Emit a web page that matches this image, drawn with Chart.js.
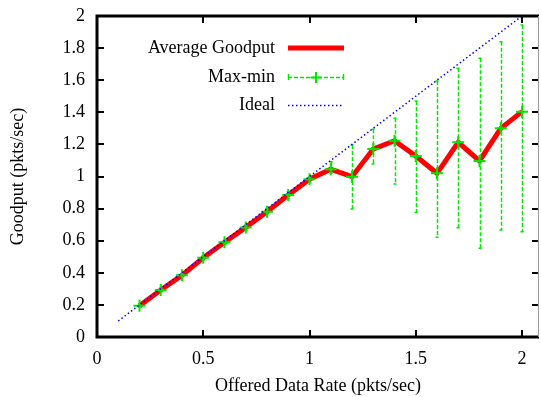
<!DOCTYPE html>
<html>
<head>
<meta charset="utf-8">
<script src="https://cdn.jsdelivr.net/npm/chart.js@4.4.1/dist/chart.umd.min.js"></script>
<style>
  html, body { margin: 0; padding: 0; background: #fff; }
  #wrap { width: 541px; height: 397px; position: relative; }
</style>
</head>
<body>
<div id="wrap"><canvas id="chart"></canvas></div>
<script>
// offered rate (pkts/sec) and measured goodput
const rates = [0.2, 0.3, 0.4, 0.5, 0.6, 0.7, 0.8, 0.9, 1.0, 1.1, 1.2, 1.3, 1.4, 1.5, 1.6, 1.7, 1.8, 1.9, 2.0];
const avgGoodput = [0.195, 0.293, 0.385, 0.494, 0.59, 0.683, 0.781, 0.885, 0.983, 1.045, 0.999, 1.171, 1.223, 1.128, 1.02, 1.213, 1.097, 1.30, 1.404];
const maxGoodput = [0.205, 0.305, 0.395, 0.505, 0.605, 0.7, 0.8, 0.905, 1.0, 1.092, 1.196, 1.294, 1.363, 1.47, 1.595, 1.674, 1.736, 1.84, 1.944];
const minGoodput = [0.185, 0.283, 0.375, 0.48, 0.575, 0.665, 0.76, 0.86, 0.965, 1.02, 0.797, 1.078, 0.953, 0.775, 0.621, 0.681, 0.553, 0.667, 0.656];
const idealRates = [0.1, 2.0];
const xTicks = [0, 0.5, 1, 1.5, 2];
const yTicks = [0, 0.2, 0.4, 0.6, 0.8, 1, 1.2, 1.4, 1.6, 1.8, 2];

const RED = '#ff0000';
const GREEN = '#00e800';
const BLUE = '#0000ff';
const serif = { family: '"Liberation Serif", serif', size: 18 };

// vertical max-min bars, drawn right after the average line
const errorBars = {
  id: 'errorBars',
  afterDatasetDraw(chart, args) {
    if (args.index !== 0) return;
    const ctx = chart.ctx;
    const xs = chart.scales.x, ys = chart.scales.y;
    ctx.save();
    ctx.strokeStyle = GREEN;
    ctx.lineWidth = 1.5;
    rates.forEach((r, i) => {
      const px = Math.round(xs.getPixelForValue(r)) + 0.5;
      const top = ys.getPixelForValue(maxGoodput[i]);
      const bot = ys.getPixelForValue(minGoodput[i]);
      ctx.setLineDash([4, 2]);
      ctx.beginPath();
      ctx.moveTo(px, top);
      ctx.lineTo(px, bot);
      ctx.stroke();
      ctx.setLineDash([]);
      ctx.beginPath();
      ctx.moveTo(px - 2, top); ctx.lineTo(px + 1, top);
      ctx.moveTo(px - 2, bot); ctx.lineTo(px + 1, bot);
      ctx.stroke();
    });
    ctx.restore();
  }
};

// border with inward ticks on all four sides
const frame = {
  id: 'frame',
  afterDraw(chart) {
    const ctx = chart.ctx;
    const a = chart.chartArea;
    const xs = chart.scales.x, ys = chart.scales.y;
    ctx.save();
    ctx.setLineDash([]);
    ctx.strokeStyle = '#000';
    ctx.lineWidth = 2;
    ctx.beginPath();
    for (const v of xTicks) {
      const px = Math.round(xs.getPixelForValue(v));
      ctx.moveTo(px, a.bottom); ctx.lineTo(px, a.bottom - 7);
      ctx.moveTo(px, a.top); ctx.lineTo(px, a.top + 7);
    }
    for (const v of yTicks) {
      const py = Math.round(ys.getPixelForValue(v));
      ctx.moveTo(a.left, py); ctx.lineTo(a.left + 7, py);
      ctx.moveTo(a.right, py); ctx.lineTo(a.right - 7, py);
    }
    ctx.stroke();
    ctx.lineWidth = 3;
    ctx.beginPath();
    ctx.moveTo(a.right, a.top);
    ctx.lineTo(a.left, a.top);
    ctx.lineTo(a.left, a.bottom);
    ctx.lineTo(a.right, a.bottom);
    ctx.stroke();
    ctx.strokeStyle = '#999';
    ctx.lineWidth = 1;
    ctx.beginPath();
    ctx.moveTo(a.right - 0.5, a.top);
    ctx.lineTo(a.right - 0.5, a.bottom);
    ctx.stroke();
    ctx.restore();
  }
};

// key in the upper left, text right-aligned before each sample
const key = {
  id: 'key',
  afterDraw(chart) {
    const ctx = chart.ctx;
    const tx = 275, sx0 = 288, sx1 = 344;
    ctx.save();
    ctx.font = serif.size + 'px ' + serif.family;
    ctx.fillStyle = '#000';
    ctx.textAlign = 'right';
    ctx.textBaseline = 'middle';
    ctx.fillText('Average Goodput', tx, 48);
    ctx.fillText('Max-min', tx, 77);
    ctx.fillText('Ideal', tx, 105);

    ctx.strokeStyle = RED;
    ctx.lineWidth = 5;
    ctx.beginPath(); ctx.moveTo(sx0, 48); ctx.lineTo(sx1, 48); ctx.stroke();

    ctx.strokeStyle = GREEN;
    ctx.lineWidth = 1.5;
    ctx.setLineDash([4, 2]);
    ctx.beginPath(); ctx.moveTo(sx0, 77.5); ctx.lineTo(sx1, 77.5); ctx.stroke();
    ctx.setLineDash([]);
    ctx.beginPath();
    ctx.moveTo(sx0 + 0.5, 74); ctx.lineTo(sx0 + 0.5, 80);
    ctx.moveTo(sx1 - 0.5, 74); ctx.lineTo(sx1 - 0.5, 80);
    ctx.stroke();
    ctx.lineWidth = 2;
    ctx.beginPath();
    ctx.moveTo(316, 72); ctx.lineTo(316, 83);
    ctx.moveTo(310.5, 77.5); ctx.lineTo(321.5, 77.5);
    ctx.stroke();

    ctx.strokeStyle = BLUE;
    ctx.lineWidth = 1.5;
    ctx.setLineDash([1.5, 2.5]);
    ctx.beginPath(); ctx.moveTo(sx0, 105.5); ctx.lineTo(sx1, 105.5); ctx.stroke();
    ctx.restore();
  }
};

const fmt = v => String(v);

const makechart = () => {
  const avgData = rates.map((r, i) => ({ x: r, y: avgGoodput[i] }));
  const idealData = idealRates.map(r => ({ x: r, y: r }));

  return new Chart('chart', {
    type: 'scatter',
    data: {
      datasets: [
        {
          label: 'Average Goodput',
          data: avgData,
          showLine: true,
          borderColor: RED,
          borderWidth: 5,
          pointRadius: 0,
          order: 3,
        },
        {
          label: 'Max-min',
          data: avgData,
          showLine: false,
          pointStyle: 'cross',
          pointRadius: 6,
          borderColor: GREEN,
          borderWidth: 2,
          order: 2,
        },
        {
          label: 'Ideal',
          data: idealData,
          showLine: true,
          borderColor: BLUE,
          borderWidth: 1.5,
          borderDash: [1.5, 2.5],
          pointRadius: 0,
          order: 1,
        },
      ],
    },
    options: {
      responsive: true,
      maintainAspectRatio: false,
      animation: false,
      layout: { autoPadding: false, padding: { top: 16, right: 2, left: 0, bottom: 0 } },
      plugins: { legend: { display: false }, tooltip: { enabled: false } },
      scales: {
        x: {
          type: 'linear',
          min: 0,
          max: 2.08,
          afterBuildTicks: s => { s.ticks = xTicks.map(v => ({ value: v })); },
          afterFit: s => { s.height = 60; s.paddingLeft = 0; s.paddingRight = 0; },
          grid: { display: false, drawTicks: false },
          border: { display: false },
          ticks: { padding: 11, color: '#000', font: serif, callback: fmt, maxRotation: 0 },
          title: { display: true, text: 'Offered Data Rate (pkts/sec)', color: '#000', font: serif, padding: { top: 0, bottom: 0 } },
        },
        y: {
          type: 'linear',
          min: 0,
          max: 2,
          afterBuildTicks: s => { s.ticks = yTicks.map(v => ({ value: v })); },
          afterFit: s => { s.width = 97; s.paddingTop = 0; s.paddingBottom = 0; },
          grid: { display: false, drawTicks: false },
          border: { display: false },
          ticks: { padding: 12, color: '#000', font: serif, callback: fmt },
          title: { display: true, text: 'Goodput (pkts/sec)', color: '#000', font: serif, padding: { top: 7, bottom: 0 } },
        },
      },
    },
    plugins: [errorBars, frame, key],
  });
};

makechart();
</script>
</body>
</html>
